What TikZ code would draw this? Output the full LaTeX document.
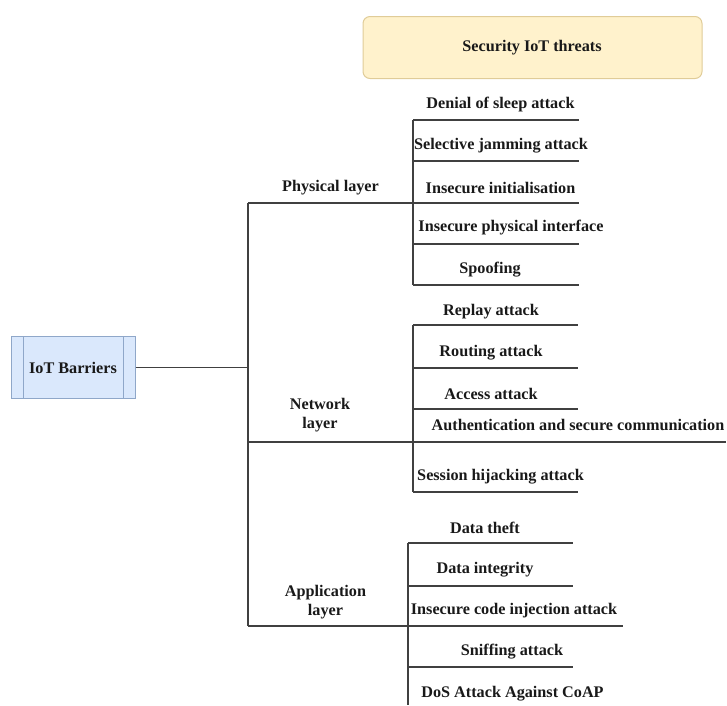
\documentclass[tikz,border=0pt]{standalone}
\usepackage{fontspec}
\setmainfont{Liberation Serif}
\definecolor{rootfill}{HTML}{DAE8FC}
\definecolor{rootline}{HTML}{8FA7C9}
\definecolor{titlefill}{HTML}{FFF2CC}
\definecolor{titleline}{HTML}{E0CC98}
\definecolor{wirecol}{HTML}{404040}
\begin{document}
\begin{tikzpicture}[x=1pt,y=-1pt,
  lbl/.style={font=\bfseries\fontsize{16.2}{19}\selectfont, inner sep=0pt, text=black!90},
  layerlbl/.style={lbl, align=center},
  wire/.style={draw=wirecol, line width=1.6pt},
  rootbox/.style={draw=rootline, fill=rootfill, line width=1pt},
  titlebox/.style={draw=titleline, fill=titlefill, rounded corners=7pt, line width=1pt}]
\useasboundingbox (0,0) rectangle (727,705);

% title box
\node[titlebox, minimum width=339, minimum height=62, inner sep=0pt] (title) at (532.5,47.5) {};
\node[lbl] (titletxt) at (532,48) {Security IoT threats};

% root box with two inner bars
\node[rootbox, minimum width=124, minimum height=62, inner sep=0pt] (root) at (73,367.5) {};
\draw[draw=rootline, line width=1pt] (23,336.5) -- (23,398.5) (123,336.5) -- (123,398.5);
\node[lbl] (roottxt) at (73,368) {IoT Barriers};

% main trunk
\coordinate (tTop) at (248,203);
\coordinate (tMid) at (248,367.5);
\coordinate (tNet) at (248,442);
\coordinate (tBot) at (248,626);
\draw[wire] (root.east) -- (tMid);
\draw[wire] (tTop) -- (tBot);

% ---------- physical layer ----------
\node[lbl] (phys) at (330.5,188) {Physical layer};
\coordinate (p1) at (413,120);
\coordinate (p2) at (413,161);
\coordinate (p3) at (413,203);
\coordinate (p4) at (413,244);
\coordinate (p5) at (413,285);
\draw[wire] (tTop) -- (p3) -- (579,203);
\draw[wire] (p1) -- (p5);
\foreach \c in {p1,p2,p4,p5} \draw[wire] (\c) -- ++(166,0);
\node[lbl] (ph1) at (500.5,105) {Denial of sleep attack};
\node[lbl] (ph2) at (501,146) {Selective jamming attack};
\node[lbl] (ph3) at (500.5,188) {Insecure initialisation};
\node[lbl] (ph4) at (511,228) {Insecure physical interface};
\node[lbl] (ph5) at (490,270) {Spoofing};

% ---------- network layer ----------
\node[layerlbl] (net) at (320,415) {Network\\layer};
\coordinate (n1) at (413,325);
\coordinate (n2) at (413,368);
\coordinate (n3) at (413,409);
\coordinate (n4) at (413,442);
\coordinate (n5) at (413,492);
\draw[wire] (tNet) -- (n4) -- (726,442);
\draw[wire] (n1) -- (n5);
\foreach \c in {n1,n2,n3,n5} \draw[wire] (\c) -- ++(165,0);
\node[lbl] (nw1) at (491,312) {Replay attack};
\node[lbl] (nw2) at (491,353) {Routing attack};
\node[lbl] (nw3) at (491,394) {Access attack};
\node[lbl] (nw4) at (578,425) {Authentication and secure communication};
\node[lbl] (nw5) at (500.5,477) {Session hijacking attack};

% ---------- application layer ----------
\node[layerlbl] (app) at (325.5,602) {Application\\layer};
\coordinate (a1) at (408,543);
\coordinate (a2) at (408,586);
\coordinate (a3) at (408,626);
\coordinate (a4) at (408,667);
\coordinate (a5) at (408,705);
\draw[wire] (tBot) -- (a3) -- (623,626);
\draw[wire] (a1) -- (a5);
\foreach \c in {a1,a2,a4} \draw[wire] (\c) -- ++(165,0);
\node[lbl] (ap1) at (485,528) {Data theft};
\node[lbl] (ap2) at (485,570) {Data integrity};
\node[lbl] (ap3) at (514,611) {Insecure code injection attack};
\node[lbl] (ap4) at (512,652) {Sniffing attack};
\node[lbl] (ap5) at (512.5,694) {DoS Attack Against CoAP};
\end{tikzpicture}
\end{document}
